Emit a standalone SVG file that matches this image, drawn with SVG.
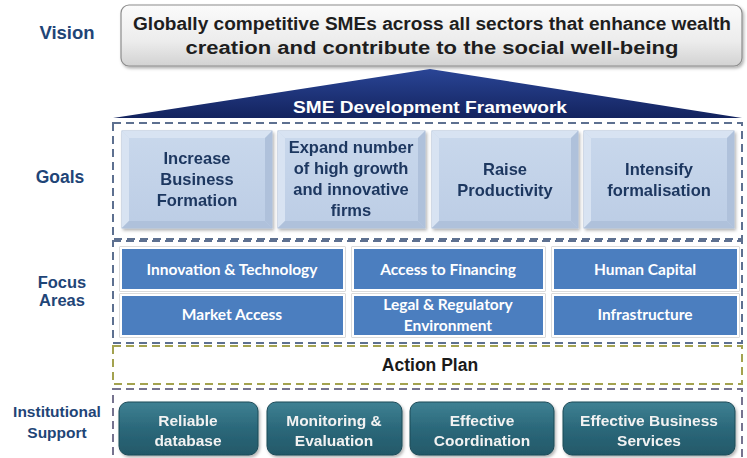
<svg xmlns="http://www.w3.org/2000/svg" width="747" height="458" viewBox="0 0 747 458">
<defs>
<linearGradient id="gVision" x1="0" y1="0" x2="0" y2="1">
<stop offset="0" stop-color="#fbfbfb"/><stop offset="0.6" stop-color="#ececec"/><stop offset="1" stop-color="#d2d2d2"/>
</linearGradient>
<linearGradient id="gTri" x1="0" y1="0" x2="0" y2="1">
<stop offset="0" stop-color="#2a4596"/><stop offset="1" stop-color="#13235e"/>
</linearGradient>
<linearGradient id="gGoal" x1="0" y1="0" x2="0" y2="1">
<stop offset="0" stop-color="#c9d8ec"/><stop offset="1" stop-color="#bccde5"/>
</linearGradient>
<linearGradient id="gInst" x1="0" y1="0" x2="0" y2="1">
<stop offset="0" stop-color="#3f8193"/><stop offset="0.5" stop-color="#2b687a"/><stop offset="1" stop-color="#235868"/>
</linearGradient>
<filter id="sh" x="-5%" y="-5%" width="115%" height="125%">
<feDropShadow dx="1.5" dy="2" stdDeviation="1.5" flood-color="#000" flood-opacity="0.3"/>
</filter>
</defs>
<style>
.lbl{font-family:"Liberation Sans",Arial,sans-serif;font-weight:bold;fill:#1f4577;text-anchor:middle}
.vt{font-family:"Liberation Sans",Arial,sans-serif;font-weight:bold;fill:#1e1e1e;font-size:18px;text-anchor:middle}
.gt{font-family:"Liberation Sans",Arial,sans-serif;font-weight:bold;fill:#1f3760;font-size:16.5px;text-anchor:middle}
.ft{font-family:Lato,"Open Sans",sans-serif;font-weight:bold;fill:#ffffff;font-size:15.5px;text-anchor:middle}
.it{font-family:"Liberation Sans",Arial,sans-serif;font-weight:bold;fill:#f2f2f2;font-size:15.5px;text-anchor:middle}
.dash{fill:none;stroke-width:2;stroke-dasharray:8 5}
.goal{fill:url(#gGoal);stroke:#a9bbd6;stroke-width:1}
.bevL{fill:#d8e3f2}
.bevD{fill:#afc1db}
.fa{fill:#4b7ebf;stroke:#ffffff;stroke-width:2}
.fo{fill:none;stroke:#b8b8b8;stroke-width:1}
.ib{fill:url(#gInst);stroke:#1c4a57;stroke-width:1}
</style>

<!-- Left labels -->
<g id="labels">
<text class="lbl" x="67" y="39" font-size="18.5">Vision</text>
<text class="lbl" x="60" y="183" font-size="17.5">Goals</text>
<text class="lbl" x="62" y="288" font-size="16.5">Focus</text>
<text class="lbl" x="62" y="306" font-size="16.5">Areas</text>
<text class="lbl" x="57" y="417" font-size="15.5">Institutional</text>
<text class="lbl" x="57" y="438" font-size="15.5">Support</text>
</g>

<!-- Vision -->
<g id="vision">
<rect x="121" y="5" width="621" height="61" rx="8" fill="url(#gVision)" stroke="#8c8c8c" stroke-width="1.2" filter="url(#sh)"/>
<text class="vt" x="432" y="30" textLength="598" lengthAdjust="spacingAndGlyphs">Globally competitive SMEs across all sectors that enhance wealth</text>
<text class="vt" x="432" y="54" textLength="493" lengthAdjust="spacingAndGlyphs">creation and contribute to the social well-being</text>
</g>

<!-- Framework triangle -->
<g id="framework">
<polygon points="430,69 742,118 113,118" fill="url(#gTri)"/>
<text x="430" y="113" font-family="'Liberation Sans',Arial,sans-serif" font-weight="bold" font-size="17" fill="#ffffff" text-anchor="middle" textLength="274" lengthAdjust="spacingAndGlyphs">SME Development Framework</text>
</g>

<!-- Dashed section frames -->
<g id="frames">
<rect class="dash" x="113" y="123" width="629" height="116" stroke="#5d7090"/>
<rect class="dash" x="113" y="241" width="629" height="102" stroke="#5d7090"/>
<rect class="dash" x="113" y="346" width="629" height="38" stroke="#a3a24f"/>
<rect class="dash" x="113" y="389" width="629" height="80" stroke="#76738f"/>
</g>

<!-- Goals -->
<g id="goal1" filter="url(#sh)">
<rect class="goal" x="122" y="131" width="150" height="97"/>
<polygon class="bevL" points="122,131 272,131 265,138 129,138"/>
<polygon class="bevL" points="122,131 129,138 129,221 122,228"/>
<polygon class="bevD" points="122,228 129,221 265,221 272,228"/>
<polygon class="bevD" points="272,131 272,228 265,221 265,138"/>
<text class="gt" x="197" y="164">Increase</text>
<text class="gt" x="197" y="185">Business</text>
<text class="gt" x="197" y="206">Formation</text>
</g>
<g id="goal2" filter="url(#sh)">
<rect class="goal" x="278" y="131" width="147" height="97"/>
<polygon class="bevL" points="278,131 425,131 418,138 285,138"/>
<polygon class="bevL" points="278,131 285,138 285,221 278,228"/>
<polygon class="bevD" points="278,228 285,221 418,221 425,228"/>
<polygon class="bevD" points="425,131 425,228 418,221 418,138"/>
<text class="gt" x="351" y="153">Expand number</text>
<text class="gt" x="351" y="174">of high growth</text>
<text class="gt" x="351" y="195">and innovative</text>
<text class="gt" x="351" y="216">firms</text>
</g>
<g id="goal3" filter="url(#sh)">
<rect class="goal" x="432" y="131" width="146" height="97"/>
<polygon class="bevL" points="432,131 578,131 571,138 439,138"/>
<polygon class="bevL" points="432,131 439,138 439,221 432,228"/>
<polygon class="bevD" points="432,228 439,221 571,221 578,228"/>
<polygon class="bevD" points="578,131 578,228 571,221 571,138"/>
<text class="gt" x="505" y="175">Raise</text>
<text class="gt" x="505" y="196">Productivity</text>
</g>
<g id="goal4" filter="url(#sh)">
<rect class="goal" x="584" y="131" width="150" height="97"/>
<polygon class="bevL" points="584,131 734,131 727,138 591,138"/>
<polygon class="bevL" points="584,131 591,138 591,221 584,228"/>
<polygon class="bevD" points="584,228 591,221 727,221 734,228"/>
<polygon class="bevD" points="734,131 734,228 727,221 727,138"/>
<text class="gt" x="659" y="175">Intensify</text>
<text class="gt" x="659" y="196">formalisation</text>
</g>

<!-- Focus areas -->
<g id="focus1"><rect class="fo" x="120" y="247" width="225" height="44"/><rect class="fa" x="121" y="248" width="223" height="42"/><text class="ft" x="232" y="275">Innovation &amp; Technology</text></g>
<g id="focus2"><rect class="fo" x="352" y="247" width="193" height="44"/><rect class="fa" x="353" y="248" width="191" height="42"/><text class="ft" x="448" y="275">Access to Financing</text></g>
<g id="focus3"><rect class="fo" x="552" y="247" width="187" height="44"/><rect class="fa" x="553" y="248" width="185" height="42"/><text class="ft" x="645" y="275">Human Capital</text></g>
<g id="focus4"><rect class="fo" x="120" y="294" width="225" height="43"/><rect class="fa" x="121" y="295" width="223" height="41"/><text class="ft" x="232" y="320">Market Access</text></g>
<g id="focus5"><rect class="fo" x="352" y="294" width="193" height="43"/><rect class="fa" x="353" y="295" width="191" height="41"/><text class="ft" x="448" y="310">Legal &amp; Regulatory</text><text class="ft" x="448" y="331">Environment</text></g>
<g id="focus6"><rect class="fo" x="552" y="294" width="187" height="43"/><rect class="fa" x="553" y="295" width="185" height="41"/><text class="ft" x="645" y="320">Infrastructure</text></g>

<!-- Action plan -->
<g id="actionplan">
<text x="430" y="371" font-family="'Liberation Sans',Arial,sans-serif" font-weight="bold" font-size="17.5" fill="#1a1a1a" text-anchor="middle">Action Plan</text>
</g>

<!-- Institutional support -->
<g id="inst1" filter="url(#sh)"><rect class="ib" x="119" y="402" width="139" height="53" rx="9"/><text class="it" x="188" y="426">Reliable</text><text class="it" x="188" y="446">database</text></g>
<g id="inst2" filter="url(#sh)"><rect class="ib" x="267" y="402" width="135" height="53" rx="9"/><text class="it" x="334" y="426">Monitoring &amp;</text><text class="it" x="334" y="446">Evaluation</text></g>
<g id="inst3" filter="url(#sh)"><rect class="ib" x="410" y="402" width="144" height="53" rx="9"/><text class="it" x="482" y="426">Effective</text><text class="it" x="482" y="446">Coordination</text></g>
<g id="inst4" filter="url(#sh)"><rect class="ib" x="563" y="402" width="172" height="53" rx="9"/><text class="it" x="649" y="426">Effective Business</text><text class="it" x="649" y="446">Services</text></g>

<g id="connectors"></g>
</svg>
